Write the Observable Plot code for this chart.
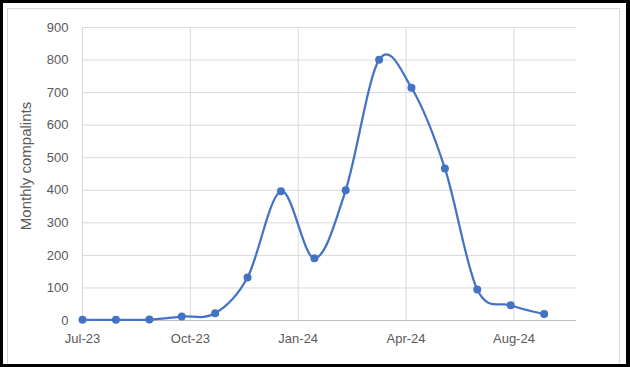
<!DOCTYPE html>
<html>
<head>
<meta charset="utf-8">
<script src="https://cdn.jsdelivr.net/npm/d3@7"></script>
<script src="https://cdn.jsdelivr.net/npm/@observablehq/plot@0.6"></script>
<style>
  html, body { margin: 0; padding: 0; background: #fff; }
  #frame { position: relative; width: 630px; height: 367px; background: #000; overflow: hidden; }
  #inner { position: absolute; left: 3px; top: 3px; width: 623px; height: 361px; background: #fff; overflow: hidden; }
  #box { position: absolute; left: 4px; top: 5px; width: 613px; height: 400px; border: 1.5px solid #d9d9d9; box-sizing: border-box; }
  #chart { position: absolute; left: -3px; top: -3px; width: 630px; height: 367px; }
  #chart svg { max-width: none !important; width: 630px; height: 367px; display: block; }
</style>
</head>
<body>
<div id="frame"><div id="inner"><div id="box"></div><div id="chart"></div></div></div>
<script>
const months = ["2023-07-01","2023-08-01","2023-09-01","2023-10-01","2023-11-01","2023-12-01","2024-01-01","2024-02-01","2024-03-01","2024-04-01","2024-05-01","2024-06-01","2024-07-01","2024-08-01","2024-09-01"];
const complaints = [2, 2, 3, 12, 22, 132, 397, 191, 400, 801, 715, 467, 95, 47, 20];
const xDomain = ["2023-07-01", "2024-10-01"];
const xTicks = ["2023-07-01", "2023-10-09", "2024-01-17", "2024-04-26", "2024-08-04"];
const yTicks = [0, 100, 200, 300, 400, 500, 600, 700, 800, 900];
const yLabel = "Monthly compalints";

const data = months.map((m, i) => ({date: new Date(m), value: complaints[i]}));
const font = "Liberation Sans, Arial, sans-serif";
const blue = "#4472C4";

const chart = Plot.plot({
  width: 630,
  height: 367,
  marginLeft: 82,
  marginRight: 54,
  marginTop: 27,
  marginBottom: 47,
  style: {fontFamily: font, fontSize: "13px", color: "#595959", background: "transparent"},
  x: {type: "utc", domain: xDomain.map(d => new Date(d))},
  y: {domain: [0, 900]},
  marks: [
    Plot.gridY(yTicks, {stroke: "#d9d9d9", strokeOpacity: 1, strokeWidth: 1}),
    Plot.gridX(xTicks.map(d => new Date(d)), {stroke: "#d9d9d9", strokeOpacity: 1, strokeWidth: 1}),
    Plot.ruleY([0], {stroke: "#bfbfbf", strokeWidth: 1}),
    Plot.axisY(yTicks, {tickSize: 0, tickPadding: 14, label: null, fill: "#595959", fontSize: 13}),
    Plot.axisX(xTicks.map(d => new Date(d)), {tickSize: 0, tickPadding: 13, tickFormat: d3.utcFormat("%b-%y"), label: null, fill: "#595959", fontSize: 13}),
    Plot.text([yLabel], {text: d => d, frameAnchor: "left", textAnchor: "middle", rotate: -90, dx: -56, dy: -8, fontSize: 15, fill: "#595959"}),
    Plot.line(data, {x: "date", y: "value", curve: "cardinal", tension: 0, stroke: blue, strokeWidth: 2.25}),
    Plot.dot(data, {x: "date", y: "value", r: 4, fill: blue, stroke: "none"})
  ]
});
document.getElementById("chart").appendChild(chart);
</script>
</body>
</html>
